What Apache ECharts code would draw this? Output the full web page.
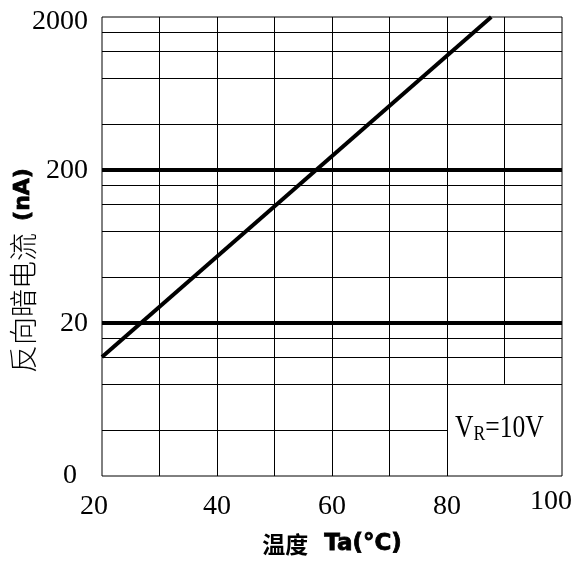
<!DOCTYPE html>
<html>
<head>
<meta charset="utf-8">
<script src="https://cdn.jsdelivr.net/npm/echarts@6/dist/echarts.min.js"></script>
<style>
  html, body { margin: 0; padding: 0; background: #fff; }
  #chart { width: 577px; height: 566px; }
</style>
</head>
<body>
<div id="chart"></div>
<script>
// 温度 (°C) 与 反向暗电流 (nA)
const temps = [20, 87.7];
const currents = [12, 2000];

// 刻度标签
const xLabels = [20, 40, 60, 80, 100];
const yLabels = { 2: '0', 20: '20', 200: '200', 2000: '2000' };

// 网格线
const xGrid = [30, 40, 50, 60, 70, 80];
const yGrid = [8, 12, 16, 40, 80, 120, 160, 400, 800, 1200, 1600];
const yBold = [20, 200];

const chart = echarts.init(document.getElementById('chart'));

const serif = 'Liberation Serif';
const thin = { color: '#000', width: 1, type: 'solid' };
// 粗体英文 (近似 Arial Black)
const heavy = {
  fontFamily: 'DejaVu Sans', fontWeight: 'bold', color: '#000',
  textBorderColor: '#000', textBorderWidth: 0.8
};

const gridLines = []
  .concat(xGrid.map(v => ({ xAxis: v })))
  .concat(yGrid.map(v => ({ yAxis: v })))
  .concat([[{ coord: [90, 8] }, { coord: [90, 2000] }]])
  .concat([[{ coord: [20, 4] }, { coord: [80, 4] }]])
  .concat(yBold.map(v => ({ yAxis: v, lineStyle: { color: '#000', width: 4 } })));

// 对数刻度取整误差
function yLabelOf(v) {
  for (const k in yLabels) {
    if (Math.abs(Math.log10(v / k)) < 0.01) return yLabels[k];
  }
  return '';
}

const option = {
  animation: false,
  backgroundColor: '#fff',
  grid: {
    left: 102, right: 15, top: 17, bottom: 90,
    containLabel: false,
    outerBoundsMode: 'none',
    show: true, borderColor: '#000', borderWidth: 1
  },
  xAxis: {
    type: 'value',
    min: 20, max: 100, interval: 10,
    axisLine: { show: false },
    axisTick: { show: false },
    splitLine: { show: false },
    axisLabel: {
      margin: 17,
      fontFamily: serif, fontSize: 28, color: '#000',
      formatter: v => {
        if (!xLabels.includes(v)) return '';
        if (v === 20) return '{a|20}';
        if (v === 100) return '{b|100}';
        return String(v);
      },
      rich: {
        a: { fontFamily: serif, fontSize: 28, padding: [0, 16, 0, 0] },
        b: { fontFamily: serif, fontSize: 28, lineHeight: 18, padding: [0, 22, 0, 0] }
      }
    },
    name: '{cn|温度}{en|Ta(°C)}',
    nameLocation: 'middle',
    nameGap: 57,
    nameMoveOverlap: false,
    nameTextStyle: {
      rich: {
        cn: { fontFamily: 'Noto Sans CJK SC', fontWeight: 'bold', fontSize: 23, color: '#000' },
        en: Object.assign({ fontSize: 23, padding: [0, 0, 0, 16] }, heavy)
      }
    }
  },
  yAxis: {
    type: 'log',
    logBase: 10,
    min: 2, max: 2000, interval: 1,
    axisLine: { show: false },
    axisTick: { show: false },
    splitLine: { show: false },
    minorSplitLine: { show: false },
    axisLabel: {
      margin: 14,
      fontFamily: serif, fontSize: 28, color: '#000',
      formatter: v => {
        const s = yLabelOf(v);
        if (s === '0') return '{z|0}';
        if (s === '2000') return '{t|2000}';
        return s;
      },
      rich: {
        z: { fontFamily: serif, fontSize: 28, padding: [0, 11, 0, 0] },
        t: { fontFamily: serif, fontSize: 28, padding: [8, 0, 0, 0] }
      }
    },
    name: '{cn|反向暗电流}{en|(nA)}',
    nameLocation: 'middle',
    nameGap: 65,
    nameRotate: 90,
    nameMoveOverlap: false,
    nameTextStyle: {
      padding: [0, 48, 0, 0],
      rich: {
        cn: { fontFamily: 'Noto Sans CJK SC', fontWeight: 300, fontSize: 28, color: '#000' },
        en: Object.assign({ fontSize: 22, padding: [0, 0, 0, 12] }, heavy)
      }
    }
  },
  series: [
    {
      type: 'line',
      data: temps.map((t, i) => [t, currents[i]]),
      showSymbol: false,
      lineStyle: { color: '#000', width: 4 },
      markLine: {
        silent: true,
        symbol: 'none',
        label: { show: false },
        lineStyle: thin,
        data: gridLines
      }
    }
  ]
};

chart.setOption(option);

// V_R=10V 标注
const p = chart.convertToPixel({ gridIndex: 0 }, [81.4, 4.06]);
chart.setOption({
  graphic: [{
    type: 'text',
    x: p[0], y: p[1],
    scaleX: 0.8,
    style: {
      text: '{v|V}{s|R}{v|=10V}',
      align: 'left', verticalAlign: 'middle',
      textAlign: 'left', textVerticalAlign: 'middle',
      fill: '#000',
      rich: {
        v: { fontFamily: serif, fontSize: 32, lineHeight: 32, fill: '#000' },
        s: { fontFamily: serif, fontSize: 22, lineHeight: 22, verticalAlign: 'bottom', fill: '#000' }
      }
    }
  }]
});
</script>
</body>
</html>
